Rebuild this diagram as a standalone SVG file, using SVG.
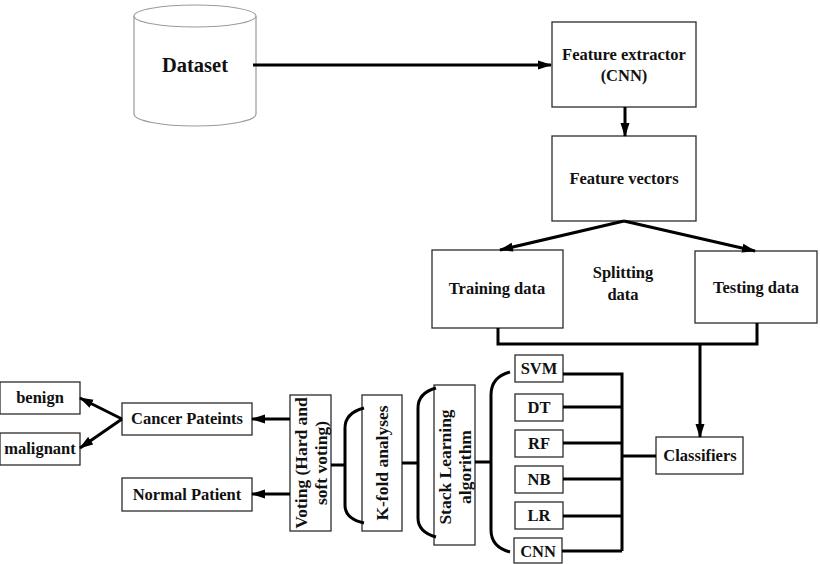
<svg xmlns="http://www.w3.org/2000/svg" width="820" height="564" viewBox="0 0 820 564">
<defs>
<marker id="ah" markerUnits="userSpaceOnUse" markerWidth="14" markerHeight="10" refX="13" refY="5" orient="auto">
<path d="M0,0.5 L14,5 L0,9.5 Z" fill="#000"/>
</marker>
<style>
.box{fill:#fff;stroke:#2b2b2b;stroke-width:1.3}
.t{font-family:"Liberation Serif","Times New Roman",serif;font-weight:bold;font-size:16.5px;fill:#111;text-anchor:middle}
.r{font-size:17.5px}
.c{fill:none;stroke:#000;stroke-width:3}
.a{fill:none;stroke:#000;stroke-width:3;marker-end:url(#ah)}
</style>
</defs>
<rect width="820" height="564" fill="#fff"/>

<g id="dataset">
<path d="M134,16 L134,114 A61,12 0 0 0 256,114 L256,16" fill="#fff" stroke="#9a9a9a" stroke-width="1.2"/>
<ellipse cx="195" cy="16" rx="61" ry="11" fill="#fff" stroke="#9a9a9a" stroke-width="1.2"/>
<text class="t" x="195" y="72" style="font-size:20.5px">Dataset</text>
</g>

<g id="feature-extractor">
<rect class="box" x="552" y="22" width="144" height="85"/>
<text class="t" x="624" y="60">Feature extractor</text>
<text class="t" x="624" y="81">(CNN)</text>
</g>

<g id="feature-vectors">
<rect class="box" x="552" y="136" width="144" height="85"/>
<text class="t" x="624" y="184">Feature vectors</text>
</g>

<g id="training-data">
<rect class="box" x="432" y="250" width="131" height="78"/>
<text class="t" x="497" y="294">Training data</text>
</g>

<g id="splitting">
<text class="t" x="623" y="278">Splitting</text>
<text class="t" x="623" y="300">data</text>
</g>

<g id="testing-data">
<rect class="box" x="695" y="251" width="122" height="72"/>
<text class="t" x="756" y="293">Testing data</text>
</g>

<g id="classifiers">
<rect class="box" x="656" y="437" width="87" height="37"/>
<text class="t" x="700" y="461">Classifiers</text>
</g>

<g id="svm"><rect class="box" x="515" y="355" width="48" height="27"/><text class="t" x="539" y="374">SVM</text></g>
<g id="dt"><rect class="box" x="515" y="394" width="48" height="27"/><text class="t" x="539" y="413">DT</text></g>
<g id="rf"><rect class="box" x="515" y="430" width="48" height="27"/><text class="t" x="539" y="449">RF</text></g>
<g id="nb"><rect class="box" x="515" y="466" width="48" height="27"/><text class="t" x="539" y="485">NB</text></g>
<g id="lr"><rect class="box" x="515" y="502" width="48" height="27"/><text class="t" x="539" y="521">LR</text></g>
<g id="cnn"><rect class="box" x="514" y="538" width="48" height="25"/><text class="t" x="538" y="557">CNN</text></g>

<g id="stack-learning">
<rect class="box" x="434" y="385" width="41" height="160"/>
<text class="t r" transform="translate(455,467) rotate(-90)"><tspan x="0" y="-4">Stack Learning</tspan><tspan x="0" y="16">algorithm</tspan></text>
</g>

<g id="k-fold">
<rect class="box" x="362" y="395" width="40" height="136"/>
<text class="t r" transform="translate(382,463) rotate(-90)" y="6">K-fold analyses</text>
</g>

<g id="voting">
<rect class="box" x="290" y="395" width="41" height="136"/>
<text class="t r" transform="translate(310,463) rotate(-90)"><tspan x="0" y="-3">Voting (Hard and</tspan><tspan x="0" y="17">soft voting)</tspan></text>
</g>

<g id="cancer-patients">
<rect class="box" x="122" y="403" width="130" height="32"/>
<text class="t" x="187" y="424">Cancer Pateints</text>
</g>

<g id="normal-patient">
<rect class="box" x="122" y="478" width="130" height="33"/>
<text class="t" x="187" y="500">Normal Patient</text>
</g>

<g id="benign">
<rect class="box" x="0" y="382" width="80" height="32"/>
<text class="t" x="40" y="403">benign</text>
</g>

<g id="malignant">
<rect class="box" x="0" y="433" width="80" height="32"/>
<text class="t" x="40" y="454">malignant</text>
</g>

<g id="connectors">
<path class="a" d="M253,65 L551,65"/>
<path class="a" d="M625,107 L625,136"/>
<path class="a" d="M624,221 L500,250"/>
<path class="a" d="M624,221 L755,251"/>
<path class="c" d="M498,328 L498,344 L757,344 L757,323"/>
<path class="a" d="M700,344 L700,437"/>
<path class="c" d="M563,374 L622,374 L622,551 M563,407 L622,407 M563,443 L622,443 M563,479 L622,479 M563,516 L622,516 M562,551 L622,551 M622,456 L656,456"/>
<path class="c" d="M510,372 Q491,377 491,395 L491,530 Q491,547 510,552 M475,462 L491,462"/>
<path class="c" d="M436,388 Q418,393 418,408 L418,518 Q418,532 436,537 M402,463 L418,463"/>
<path class="c" d="M364,408 Q345,413 345,428 L345,505 Q345,519 364,523 M331,465 L345,465"/>
<path class="a" d="M290,419 L252,419"/>
<path class="a" d="M290,494 L252,494"/>
<path class="a" d="M122,419 L80,398"/>
<path class="a" d="M122,419 L80,448"/>
</g>
</svg>
